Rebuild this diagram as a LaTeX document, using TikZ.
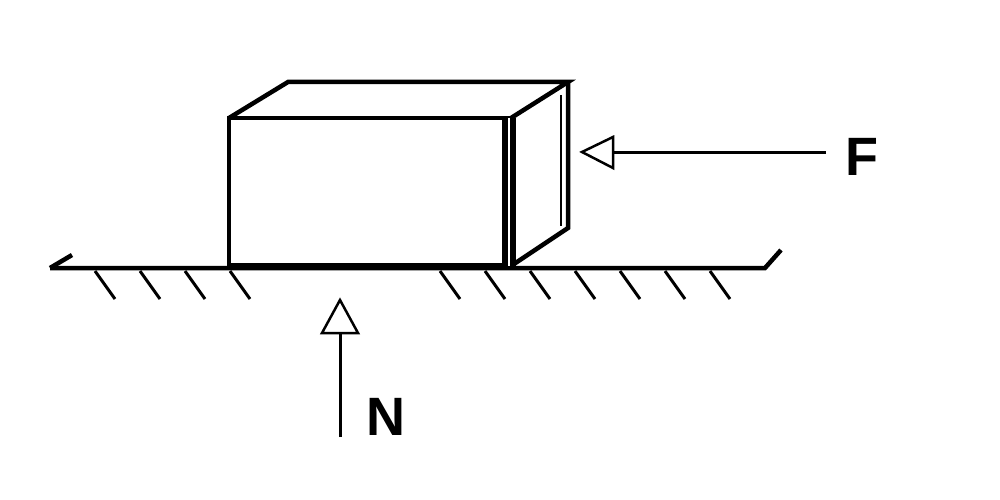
\documentclass[tikz,border=0pt]{standalone}
\usepackage{fontspec}
\setmainfont{Liberation Sans}
\begin{document}
\begin{tikzpicture}[x=1pt,y=-1pt,
  thick line/.style={line width=4.5pt,line join=miter},
  hatch/.style={line width=3pt},
  tri/.style={draw,line width=2.5pt,fill=white,line join=miter},
  lbl/.style={font=\bfseries\fontsize{54}{54}\selectfont}]
\useasboundingbox (0,0) rectangle (1000,500);
% ground
\draw[line width=4.5pt] (50,268) -- (72,255);
\draw[line width=4.5pt] (50,268) -- (765,268) -- (781,250);
\foreach \x in {95,140,185,230,440,485,530,575,620,665,710}
  \draw[hatch] (\x,271) -- (\x+20,299);
% box
\draw[thick line] (229,266) -- (229,118) -- (511,118);
\draw[thick line] (229,118) -- (288,82) -- (568,82) -- (511,118);
\draw[line width=6pt] (229,266) -- (511,266);
\draw[thick line] (511,266) -- (568,228) -- (568,82);
\draw[line width=6pt,double=white,double distance=2pt] (509,118) -- (509,266);
\draw[line width=2pt] (561,95) -- (561,226);
% F
\coordinate (fs) at (826,152);
\coordinate (fb) at (612,152);
\draw[line width=3pt] (fs) -- (fb);
\draw[tri] (582,152) -- (613,137) -- (613,168) -- cycle;
\node[lbl] (F) at (862,157) {F};
% N
\coordinate (ns) at (340,437);
\coordinate (nb) at (340,333);
\draw[line width=3pt] (ns) -- (nb);
\draw[tri] (340,300) -- (322,333) -- (358,333) -- cycle;
\node[lbl] (N) at (386,417) {N};
\end{tikzpicture}
\end{document}
